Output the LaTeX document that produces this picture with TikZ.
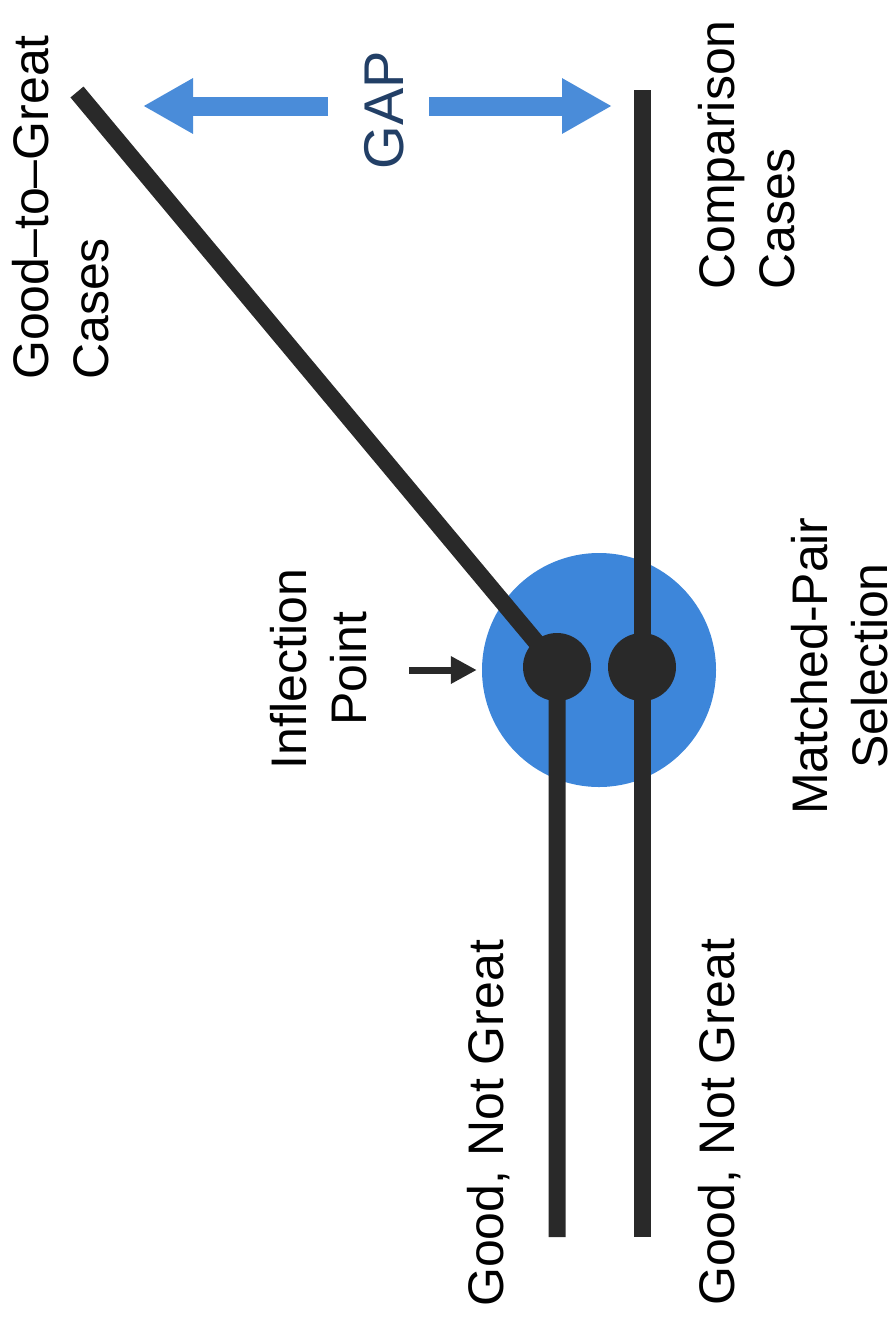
\documentclass[tikz,border=0pt]{standalone}
\usepackage{fontspec}
\setmainfont{Liberation Sans}
\usetikzlibrary{positioning,arrows.meta,calc}
\definecolor{trackgray}{HTML}{292929}
\definecolor{gapblue}{HTML}{4A8CD9}
\definecolor{selblue}{HTML}{3D86DA}
\definecolor{gapnavy}{HTML}{223F66}
\tikzset{
    track/.style = {
        draw=trackgray,
        line width=17pt
    },
    junction/.style = {
        shape=circle,
        fill=trackgray,
        minimum size=68pt,
        inner sep=0pt
    },
    selection/.style = {
        shape=circle,
        fill=selblue,
        minimum size=234pt,
        inner sep=0pt
    },
    caption/.style = {
        rotate=90,
        inner sep=0pt,
        font=\fontsize{50}{60}\selectfont
    },
    gaparrow/.style = {
        draw=gapblue,
        line width=19pt,
        -{Triangle[length=50pt,width=52pt]}
    },
    pointer/.style = {
        draw=trackgray,
        line width=7pt,
        -{Triangle[length=26pt,width=26pt]}
    },
}

\begin{document}
\begin{tikzpicture}[x=1pt, y=-1pt]
    \useasboundingbox (0,0) rectangle (896,1326);

    \node[selection] (pick) at (599,670) {};
    \node[junction] (gtgdot) at (557,667) {};
    \node[junction] (cmpdot) at (642,667) {};

    \coordinate (gtgtop) at (77,92);
    \coordinate (gtgend) at (557,1237);
    \coordinate (cmptop) at (642,90);
    \coordinate (cmpend) at (642,1237);

    \draw[track] (gtgtop) -- (gtgdot.center) -- (gtgend);
    \draw[track] (cmptop) -- (cmpdot.center) -- (cmpend);

    % gap arrows
    \coordinate (gapltail) at (328,106);
    \coordinate (gapltip) at (143,106);
    \coordinate (gaprtail) at (429,106);
    \coordinate (gaprtip) at (612,106);
    \draw[gaparrow] (gapltail) -- (gapltip);
    \draw[gaparrow] (gaprtail) -- (gaprtip);
    \node[caption, anchor=north, text=gapnavy, font=\fontsize{56}{60}\selectfont] (gaplabel) at (364,110) {GAP};

    % labels
    \node[caption, anchor=north west, align=left] (gtglabel) at (12,380) {Good–to–Great\\Cases};
    \node[caption, anchor=north west, align=left] (cmplabel) at (698,290) {Comparison\\Cases};
    \node[caption, anchor=north, align=center] (inflabel) at (270,669) {Inflection\\Point};
    \node[caption, anchor=north, align=center] (pairlabel) at (791,666) {Matched-Pair\\Selection};
    \node[caption, anchor=north west] (gtgbase) at (467,1307) {Good, Not Great};
    \node[caption, anchor=north west] (cmpbase) at (698,1306) {Good, Not Great};

    \coordinate (pointtail) at (409,670);
    \draw[pointer] (pointtail) -- ([xshift=-5pt]pick.west);
\end{tikzpicture}
\end{document}
